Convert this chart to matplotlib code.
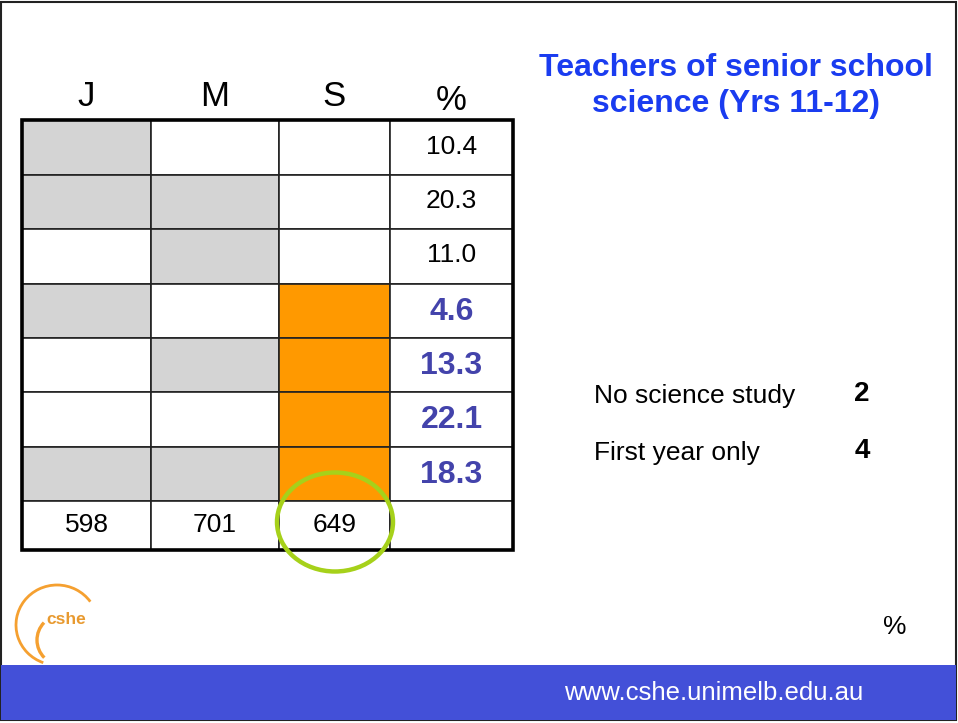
import matplotlib
matplotlib.use('Agg')
import matplotlib.pyplot as plt
from matplotlib.patches import Rectangle, Ellipse, Arc

plt.rcParams['font.family'] = ['Liberation Sans', 'DejaVu Sans']

# table data
col_labels = ['J', 'M', 'S', '%']
# cell fill per row for J, M, S: 0 = white, 1 = grey, 2 = orange
fills = [
    [1, 0, 0],
    [1, 1, 0],
    [0, 1, 0],
    [1, 0, 2],
    [0, 1, 2],
    [0, 0, 2],
    [1, 1, 2],
]
percents = ['10.4', '20.3', '11.0', '4.6', '13.3', '22.1', '18.3']
highlight = [False, False, False, True, True, True, True]
totals = ['598', '701', '649', '']

side_labels = ['No science study', 'First year only']
side_values = ['2', '4']

fill_colors = {0: 'white', 1: '#d4d4d4', 2: '#ff9900'}

fig = plt.figure(figsize=(9.58, 7.23), dpi=100)
ax = fig.add_axes([0, 0, 1, 1])
ax.set_xlim(0, 958)
ax.set_ylim(723, 0)
ax.axis('off')

# slide frame and footer bar
ax.add_patch(Rectangle((1, 2), 955, 718, facecolor='white', edgecolor='#222222', lw=1.5))
ax.add_patch(Rectangle((1, 665), 955, 55, facecolor='#4350d8', edgecolor='none'))
ax.text(714, 693, 'www.cshe.unimelb.edu.au', color='white', fontsize=18.5,
        ha='center', va='center')

# table geometry
col_x = [22, 151, 279, 390, 513]
row_y = [120, 175, 229, 284, 338, 392, 447, 501, 550]

for i, row in enumerate(fills):
    for j, f in enumerate(row):
        ax.add_patch(Rectangle((col_x[j], row_y[i]), col_x[j + 1] - col_x[j],
                               row_y[i + 1] - row_y[i], facecolor=fill_colors[f],
                               edgecolor='#222222', lw=1.2))
    ax.add_patch(Rectangle((col_x[3], row_y[i]), col_x[4] - col_x[3],
                           row_y[i + 1] - row_y[i], facecolor='white',
                           edgecolor='#222222', lw=1.2))
    cy = (row_y[i] + row_y[i + 1]) / 2
    cx = (col_x[3] + col_x[4]) / 2
    if highlight[i]:
        ax.text(cx, cy + 1, percents[i], color='#4343ab', fontsize=23,
                fontweight='bold', ha='center', va='center')
    else:
        ax.text(cx, cy - 1, percents[i], color='black', fontsize=19,
                ha='center', va='center')

# totals row
for j, t in enumerate(totals):
    ax.add_patch(Rectangle((col_x[j], row_y[7]), col_x[j + 1] - col_x[j],
                           row_y[8] - row_y[7], facecolor='white',
                           edgecolor='#222222', lw=1.2))
    ax.text((col_x[j] + col_x[j + 1]) / 2, (row_y[7] + row_y[8]) / 2, t,
            fontsize=19, ha='center', va='center')

# outer border
ax.add_patch(Rectangle((col_x[0], row_y[0]), col_x[-1] - col_x[0],
                       row_y[-1] - row_y[0], facecolor='none',
                       edgecolor='black', lw=2.6))

# column headers
for j, lab in enumerate(col_labels):
    yy = 101 if lab == '%' else 96
    ax.text((col_x[j] + col_x[j + 1]) / 2, yy, lab, fontsize=25,
            ha='center', va='center')

# green highlight ring
ax.add_patch(Ellipse((335, 522), 116, 99, facecolor='none',
                     edgecolor='#a6d11a', lw=3.2))

# title
ax.text(736, 86, 'Teachers of senior school\nscience (Yrs 11-12)', color='#1a3cf0',
        fontsize=23, fontweight='bold', ha='center', va='center', linespacing=1.3)

# side notes
side_y = [396, 453]
for lab, val, yy in zip(side_labels, side_values, side_y):
    ax.text(594, yy, lab, fontsize=19, ha='left', va='center')
    ax.text(862, yy - 2, val, fontsize=20, fontweight='bold', ha='center', va='center')
ax.text(895, 627, '%', fontsize=19, ha='center', va='center')

# cshe logo
ax.add_patch(Arc((57, 625), 82, 80, theta1=110, theta2=325, color='#f5a030', lw=2.0))
ax.add_patch(Arc((62, 640), 50, 50, theta1=135, theta2=224, color='#f5a030', lw=2.4))
ax.text(46, 620, 'cshe', color='#e89a30', fontsize=12.5, fontweight='bold',
        ha='left', va='center')

fig.savefig('out.png', dpi=100)
